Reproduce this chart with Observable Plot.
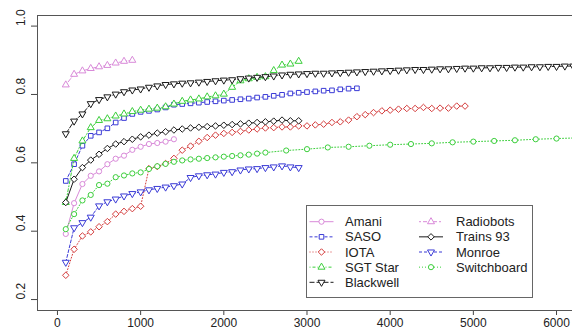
<!DOCTYPE html>
<html><head><meta charset="utf-8">
<script src="https://cdn.jsdelivr.net/npm/d3@7"></script>
<script src="https://cdn.jsdelivr.net/npm/@observablehq/plot@0.6"></script>
<style>
html,body{margin:0;padding:0;background:#fff;overflow:hidden}
#wrap{position:relative;width:572px;height:334px}
#legend{position:absolute;left:0;top:0;pointer-events:none}
</style></head><body><div id="wrap"></div>
<script>
// ---- data ----
const xGrid = [100,200,300,400,500,600,700,800,900,1000,1100,1200,1300,1400,1500,1600,1700,1800,1900,2000,
  2100,2200,2300,2400,2500,2600,2700,2800,2900,3000,3100,3200,3300,3400,3500,3600,3700,3800,3900,4000,
  4100,4200,4300,4400,4500,4600,4700,4800,4900,5000,5100,5200,5300,5400,5500,5600,5700,5800,5900,6000,6100,6200];
const switchboardX = [100,200,300,400,500,600,700,800,900,1000,1100,1200,1300,1400,1500,1600,1700,1800,1900,2000,
  2100,2200,2300,2400,2500,2750,3000,3250,3500,3750,4000,4250,4500,4750,5000,5250,5500,5750,6000,6250];

const amani = [0.392,0.482,0.538,0.562,0.575,0.596,0.612,0.621,0.638,0.647,0.655,0.658,0.662,0.669];
const saso = [0.547,0.596,0.650,0.679,0.689,0.701,0.718,0.731,0.743,0.749,0.752,0.756,0.762,0.770,0.772,0.774,0.776,0.778,
  0.780,0.782,0.784,0.786,0.788,0.791,0.793,0.796,0.799,0.803,0.805,0.807,0.809,0.811,0.812,0.815,0.817,0.818];
const iota = [0.271,0.347,0.386,0.398,0.413,0.428,0.450,0.458,0.466,0.473,
  0.583,0.589,0.598,0.613,0.637,0.649,0.663,0.674,0.681,0.686,
  0.689,0.692,0.696,0.699,0.702,0.703,0.705,0.705,0.708,0.708,
  0.711,0.713,0.718,0.720,0.725,0.735,0.741,0.747,0.752,0.754,
  0.757,0.759,0.759,0.762,0.759,0.760,0.760,0.766,0.766];
const sgtStar = [0.484,0.613,0.664,0.703,0.724,0.729,0.737,0.743,0.750,0.754,0.757,0.760,0.764,0.772,0.780,0.784,0.787,
  0.793,0.796,0.801,0.821,0.840,0.846,0.850,0.852,0.870,0.886,0.889,0.897];
const blackwell = [0.685,0.722,0.743,0.773,0.785,0.793,0.801,0.808,0.813,0.816,0.821,0.825,0.829,0.831,0.833,0.834,0.836,
  0.838,0.840,0.842,0.843,0.846,0.848,0.850,0.852,0.854,0.857,0.859,0.860,0.861,0.862,0.862,0.863,0.864,0.865,0.866,
  0.867,0.868,0.869,0.870,0.871,0.872,0.873,0.873,0.874,0.875,0.875,0.876,0.877,0.877,0.878,0.878,0.879,0.879,0.880,
  0.880,0.881,0.881,0.882,0.882,0.883,0.883];
const radiobots = [0.828,0.859,0.869,0.876,0.881,0.885,0.892,0.897,0.900];
const trains93 = [0.484,0.552,0.586,0.608,0.625,0.642,0.655,0.662,0.669,0.676,0.681,0.687,0.691,0.696,0.699,0.702,0.704,
  0.706,0.708,0.710,0.712,0.714,0.716,0.718,0.720,0.722,0.725,0.723,0.723];
const monroe = [0.309,0.410,0.425,0.441,0.474,0.486,0.494,0.503,0.510,0.515,0.521,0.525,0.529,0.533,0.538,0.557,0.562,
  0.565,0.567,0.572,0.574,0.579,0.582,0.583,0.586,0.588,0.591,0.588,0.586];
const switchboard = [0.406,0.450,0.490,0.506,0.535,0.539,0.558,0.563,0.569,0.572,
  0.582,0.590,0.597,0.603,0.607,0.610,0.612,0.614,0.616,0.618,
  0.620,0.622,0.624,0.627,0.630,
  0.636,0.640,0.645,0.647,0.650,0.653,0.655,0.657,0.660,0.662,0.664,0.666,0.669,0.671,0.673];

const xTicks = [0,1000,2000,3000,4000,5000,6000];
const yTicks = [0.2,0.4,0.6,0.8,1.0];
const xDomain = [-240, 6192];
const yDomain = [0.168, 1.031];

// ---- styles ----
const pink = "#d98ad9", blue = "#3b3bd6", red = "#d43c3c", green = "#3ccf3c", black = "#1a1a1a";
const R = 2.6;
const sym = {
  circle: {draw(c, s){ const k = Math.sqrt(s/Math.PI)*R; c.moveTo(k,0); c.arc(0,0,k,0,2*Math.PI); c.closePath(); }},
  square: {draw(c, s){ const k = Math.sqrt(s/Math.PI)*R*0.886; c.moveTo(-k,-k); c.lineTo(k,-k); c.lineTo(k,k); c.lineTo(-k,k); c.closePath(); }},
  diamond: {draw(c, s){ const k = Math.sqrt(s/Math.PI)*R*1.2533; c.moveTo(0,-k); c.lineTo(k,0); c.lineTo(0,k); c.lineTo(-k,0); c.closePath(); }},
  up: {draw(c, s){ const k = Math.sqrt(s/Math.PI)*R; const r = 1.5551*k, xc = 1.3468*k, yc = 0.7776*k;
    c.moveTo(0,-r); c.lineTo(xc,yc); c.lineTo(-xc,yc); c.closePath(); }},
  down: {draw(c, s){ const k = Math.sqrt(s/Math.PI)*R; const r = 1.5551*k, xc = 1.3468*k, yc = 0.7776*k;
    c.moveTo(0,r); c.lineTo(xc,-yc); c.lineTo(-xc,-yc); c.closePath(); }}
};

const series = [
  {name: "Amani", x: xGrid, values: amani, color: pink, dash: null, symbol: sym.circle},
  {name: "SASO", x: xGrid, values: saso, color: blue, dash: "3,2", symbol: sym.square},
  {name: "IOTA", x: xGrid, values: iota, color: red, dash: "1,2", symbol: sym.diamond},
  {name: "SGT Star", x: xGrid, values: sgtStar, color: green, dash: "1,2,3,2", symbol: sym.up},
  {name: "Blackwell", x: xGrid, values: blackwell, color: black, dash: "5,2", symbol: sym.down},
  {name: "Radiobots", x: xGrid, values: radiobots, color: pink, dash: "2,2,4,2", symbol: sym.up},
  {name: "Trains 93", x: xGrid, values: trains93, color: black, dash: null, symbol: sym.diamond},
  {name: "Monroe", x: xGrid, values: monroe, color: blue, dash: "3,2", symbol: sym.down},
  {name: "Switchboard", x: switchboardX, values: switchboard, color: green, dash: "1,2", symbol: sym.circle}
];

const marks = [];
for (const s of series) {
  const data = s.values.map((v, i) => ({x: s.x[i], y: v}));
  const lineOpts = {x: "x", y: "y", stroke: s.color, strokeWidth: 1, clip: true};
  if (s.dash) lineOpts.strokeDasharray = s.dash;
  marks.push(Plot.line(data, lineOpts));
  marks.push(Plot.dot(data, {x: "x", y: "y", r: 1, symbol: s.symbol, stroke: s.color, fill: "white", strokeWidth: 1, clip: true}));
}
marks.push(Plot.ruleY(yDomain, {stroke: "#555"}));
marks.push(Plot.ruleX([xDomain[0]], {stroke: "#555"}));
marks.push(Plot.text(xTicks, {x: d => d, frameAnchor: "bottom", dy: 16, text: d => String(d), fontSize: 12, fill: "#222"}));
marks.push(Plot.text(yTicks, {y: d => d, frameAnchor: "left", dx: -16, rotate: -90, text: d => d.toFixed(1), fontSize: 12, fill: "#222"}));

const chart = Plot.plot({
  width: 572, height: 334,
  marginLeft: 37, marginRight: 0, marginTop: 15, marginBottom: 24,
  style: {fontFamily: "'Liberation Sans', Arial, sans-serif", fontSize: "12px", color: "#444", background: "white"},
  x: {domain: xDomain, ticks: xTicks, tickSize: 5, tickFormat: () => "", label: null},
  y: {domain: yDomain, ticks: yTicks, tickSize: 6, tickFormat: () => "", label: null},
  marks
});
document.getElementById("wrap").appendChild(chart);

// ---- legend (overlay inside the plot area) ----
const lg = d3.select("#wrap").append("svg").attr("id", "legend").attr("width", 572).attr("height", 334)
  .style("font-family", "'Liberation Sans', Arial, sans-serif");
lg.append("rect").attr("x", 306.5).attr("y", 205.5).attr("width", 226).attr("height", 92)
  .attr("fill", "white").attr("stroke", "#666");
const colX = [321.5, 431], textX = [345, 456];
series.forEach((s, i) => {
  const col = i < 5 ? 0 : 1, row = i < 5 ? i : i - 5;
  const cy = 221.7 + 15.15 * row, cx = colX[col];
  const ln = lg.append("line").attr("x1", cx - 12).attr("x2", cx + 12).attr("y1", cy).attr("y2", cy)
    .attr("stroke", s.color).attr("stroke-width", 1);
  if (s.dash) ln.attr("stroke-dasharray", s.dash);
  lg.append("path").attr("d", d3.symbol(s.symbol, Math.PI)()).attr("transform", `translate(${cx},${cy})`)
    .attr("fill", "white").attr("stroke", s.color);
  lg.append("text").attr("x", textX[col]).attr("y", cy).attr("dy", "0.35em").attr("font-size", 13)
    .attr("fill", "#222").text(s.name);
});
</script></body></html>
